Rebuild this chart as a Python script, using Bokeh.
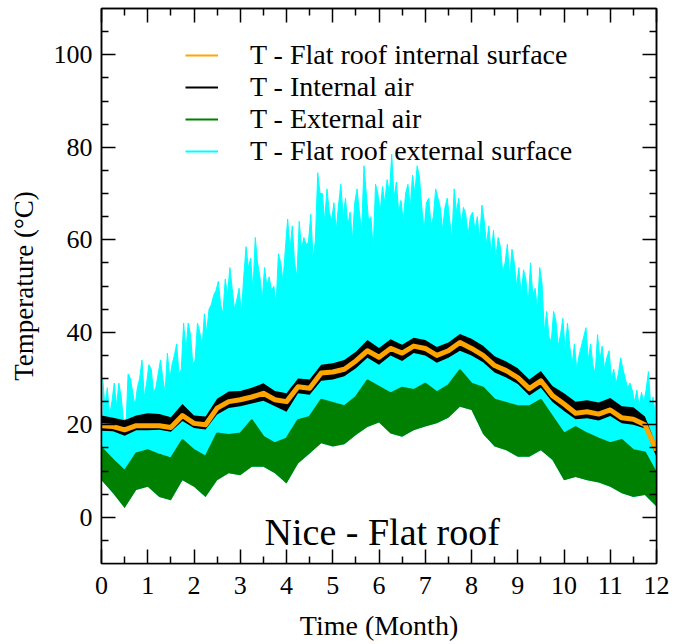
import numpy as np
from bokeh.plotting import figure
from bokeh.models import Range1d, FixedTicker, LinearAxis, Legend, LegendItem, Label
from bokeh.embed import file_html
from bokeh.resources import INLINE

# ---------------- data ----------------
months_q = [i * 0.25 for i in range(49)]          # 0 .. 12 month, quarter-month grid

orange_surf = [19.8, 19.6, 18.9, 19.8, 19.8, 19.8, 19.4, 22.0, 20.3, 20.0,
               23.6, 25.0, 25.4, 26.0, 26.8, 25.4, 25.0, 28.2, 27.9, 31.2,
               31.4, 32.0, 33.8, 36.0, 34.6, 36.5, 35.5, 37.0, 36.5, 35.0,
               36.0, 37.8, 36.5, 35.0, 32.8, 31.7, 30.2, 27.8, 29.5, 26.3,
               24.5, 22.5, 22.8, 22.3, 23.2, 21.5, 21.2, 20.0, 14.5]

air_high = [22.0, 21.5, 21.0, 22.0, 22.5, 22.3, 21.6, 24.5, 22.0, 21.8,
            25.6, 27.2, 27.3, 28.0, 29.0, 27.3, 26.8, 30.0, 29.8, 33.0,
            33.3, 34.0, 35.8, 38.3, 36.6, 38.5, 37.3, 38.8, 38.3, 36.8,
            37.8, 39.6, 38.6, 37.1, 34.8, 33.7, 32.2, 29.8, 31.6, 28.4,
            26.8, 25.0, 25.3, 24.8, 25.8, 24.0, 23.8, 21.8, 15.5]
air_low = [18.7, 18.6, 17.6, 18.8, 18.8, 18.9, 18.5, 20.8, 19.3, 19.0,
           22.2, 23.6, 24.0, 24.6, 25.2, 24.0, 22.8, 26.8, 26.5, 29.5,
           29.8, 30.5, 32.2, 34.5, 33.0, 35.0, 33.8, 35.5, 35.0, 33.4,
           34.5, 36.0, 35.0, 33.5, 31.3, 30.2, 28.8, 26.3, 28.0, 24.9,
           23.0, 21.2, 21.4, 20.9, 21.9, 20.3, 20.0, 19.2, 13.0]

ext_high = [15.0, 12.4, 10.0, 13.8, 14.5, 13.5, 12.7, 16.7, 14.5, 13.1,
            18.1, 17.8, 18.1, 21.0, 17.4, 16.0, 17.0, 21.0, 21.7, 25.4,
            24.7, 24.0, 26.0, 29.6, 28.2, 26.8, 28.0, 27.5, 28.9, 27.0,
            28.5, 31.8, 28.9, 28.0, 25.4, 24.7, 24.0, 24.0, 25.4, 21.7,
            18.1, 19.5, 18.1, 17.0, 16.0, 16.7, 14.5, 14.0, 9.5]
ext_low = [8.0, 5.2, 2.0, 5.9, 6.6, 4.4, 3.7, 8.0, 6.6, 4.4,
           8.0, 9.5, 9.1, 10.9, 10.9, 9.5, 7.3, 11.6, 13.8, 16.0,
           15.3, 15.8, 17.8, 19.5, 20.5, 18.1, 17.4, 18.8, 19.6, 20.3,
           21.5, 23.9, 23.2, 18.0, 15.3, 14.5, 13.1, 13.1, 14.5, 12.4,
           8.0, 8.7, 8.0, 7.5, 6.6, 5.2, 4.4, 4.8, 2.3]

roof_ext_bulk = [22, 22, 21, 22, 23, 23, 23.5, 25, 25, 27,
                 30, 31, 33, 34, 35, 35, 37, 39, 41, 44,
                 45, 46, 47, 48, 48, 50, 49, 50, 48, 47,
                 47, 47, 45, 43, 41, 39, 38, 36, 34, 31,
                 29, 28, 27, 26, 25, 24, 23, 22, 18]

# daily-peak spikes of the external roof surface, every 0.05 month
spike_months = [0.025 + 0.05 * i for i in range(240)]
roof_ext_peak = [
    30, 24, 28, 22, 25, 29, 24, 29, 26, 21, 19, 31, 30, 27, 24, 28, 30, 34, 26, 29,
    33, 32, 27, 28, 31, 34, 30, 27, 35.5, 30, 33, 35, 37.5, 31, 32, 42, 36, 42, 39.5, 33,
    34, 42, 40, 37, 44, 40, 45, 46, 48, 49, 51, 46, 44, 51.5, 48, 54, 49.5, 45, 47, 49.5,
    44, 52, 58.5, 54, 56, 49, 60.5, 55, 52, 47, 54, 50, 52, 49, 50, 46, 57, 55, 51, 58,
    64.5, 58, 63, 55, 52, 64, 58, 60.5, 59, 59.5, 65.5, 56, 60, 74.5, 70, 70, 64, 71, 66, 64,
    68, 62, 67.5, 72, 65, 69, 63, 66, 60, 68, 71, 66, 62, 76, 70, 64, 65, 58, 72, 70,
    66, 71.5, 68, 73, 70, 78.5, 69, 72.5, 66, 68.5, 64, 70, 72, 67, 74, 70, 76, 73.5, 67, 62,
    68, 69, 63, 65, 71, 69, 67, 62, 67, 69, 64.5, 60, 71, 66, 69, 63, 67, 65.5, 61, 65,
    66, 62, 65, 60, 67.5, 64, 59, 63, 57, 62, 56, 60.5, 58.5, 53, 55, 59, 52, 58, 55, 50,
    54, 48, 53.5, 51.5, 46, 55, 48, 49.5, 45, 54, 50.5, 40, 44.5, 39, 38, 44.5, 42.5, 37, 39.5, 43,
    36, 42, 37, 33, 37.5, 32, 35, 37, 39, 41, 34, 37.5, 33, 31, 39.5, 34, 37, 32, 34.5, 36,
    30, 32, 29, 31, 34.5, 32, 30, 28, 29, 27.5, 25, 27.5, 24, 27, 25, 27.5, 31.5, 24, 26, 22]

x_ticks = list(range(13))
x_minor = [i + 0.5 for i in range(12)]
y_ticks = [0, 20, 40, 60, 80, 100]
y_minor = [v for v in range(-5, 110, 5) if v % 20 != 0]

labels = ["T - Flat roof internal surface", "T - Internal air",
          "T - External air", "T - Flat roof external surface"]

# ---------------- figure ----------------
FONT = "Liberation Serif"
CYAN, GREEN, ORANGE, BLACK = "#00FFFF", "#008000", "#FFA500", "#000000"

p = figure(width=685, height=644, x_range=Range1d(0, 12), y_range=Range1d(-10, 110),
           output_backend="svg", toolbar_location=None,
           min_border_left=101, min_border_right=29, min_border_top=8, min_border_bottom=81)
p.xgrid.visible = False
p.ygrid.visible = False
p.outline_line_color = "black"
p.outline_line_width = 1.5

# external roof surface (cyan): dense body + jagged daily peaks
p.varea(x=months_q, y1=ext_low, y2=roof_ext_bulk, fill_color=CYAN)
p.varea(x=spike_months, y1=0, y2=roof_ext_peak, fill_color=CYAN)
p.line(spike_months, roof_ext_peak, line_color=CYAN, line_width=1)
r_cyan = p.line(months_q, roof_ext_bulk, line_color=CYAN, line_width=2)
# keep the area below the external-air band clear
p.varea(x=months_q, y1=-10, y2=ext_low, fill_color="white")

# external air (green)
p.varea(x=months_q, y1=ext_low, y2=ext_high, fill_color=GREEN)
r_green = p.line(months_q, ext_high, line_color=GREEN, line_width=2)

# internal air (black)
p.varea(x=months_q, y1=air_low, y2=air_high, fill_color=BLACK)
r_black = p.line(months_q, orange_surf, line_color=BLACK, line_width=2)

# internal roof surface (orange)
p.line(months_q, orange_surf, line_color=ORANGE, line_width=5, line_join="round")
r_orange = p.line(months_q, orange_surf, line_color=ORANGE, line_width=2)

# ---------------- axes ----------------
xt = FixedTicker(ticks=x_ticks, minor_ticks=x_minor)
yt = FixedTicker(ticks=y_ticks, minor_ticks=y_minor)
p.xaxis.ticker = xt
p.yaxis.ticker = yt

def style_axis(ax, labels_on=True):
    ax.axis_line_color = "black"
    ax.axis_line_width = 1.5
    ax.major_tick_line_width = 1.5
    ax.minor_tick_line_width = 1.5
    ax.major_tick_in = 14
    ax.major_tick_out = 0
    ax.minor_tick_in = 7
    ax.minor_tick_out = 0
    ax.major_label_text_font = FONT
    ax.axis_label_text_font = FONT
    ax.axis_label_text_font_style = "normal"
    ax.axis_label_text_color = "black"
    if labels_on:
        ax.major_label_text_color = "black"
        ax.major_label_text_font_size = "26px"
    else:
        ax.major_label_text_color = None
        ax.major_label_text_font_size = "1px"
        ax.major_label_standoff = 0

for ax in p.xaxis + p.yaxis:
    style_axis(ax)
p.xaxis.axis_label = "Time (Month)"
p.xaxis.axis_label_text_font_size = "28px"
p.xaxis.major_label_standoff = 13
p.xaxis.axis_label_standoff = 13
p.yaxis.axis_label = "Temperature (°C)"
p.yaxis.axis_label_text_font_size = "27px"
p.yaxis.major_label_standoff = 9
p.yaxis.axis_label_standoff = 12

top_ax = LinearAxis(ticker=xt)
style_axis(top_ax, labels_on=False)
p.add_layout(top_ax, "above")
right_ax = LinearAxis(ticker=yt)
style_axis(right_ax, labels_on=False)
p.add_layout(right_ax, "right")

# ---------------- legend & annotation ----------------
items = [LegendItem(label=labels[0], renderers=[r_orange]),
         LegendItem(label=labels[1], renderers=[r_black]),
         LegendItem(label=labels[2], renderers=[r_green]),
         LegendItem(label=labels[3], renderers=[r_cyan])]
legend = Legend(items=items, location=(84, 396), orientation="vertical",
                background_fill_alpha=0, border_line_alpha=0,
                label_text_font=FONT, label_text_font_size="28px", label_text_color="black",
                glyph_width=33, glyph_height=32, label_height=32, label_standoff=32,
                spacing=0, padding=0, margin=0)
p.add_layout(legend)

p.add_layout(Label(x=6.07, y=-3.2, text="Nice - Flat roof", text_font=FONT,
                   text_font_size="38px", text_align="center",
                   text_baseline="alphabetic", text_color="black"))

open("out.html", "w").write(file_html(p, INLINE))
